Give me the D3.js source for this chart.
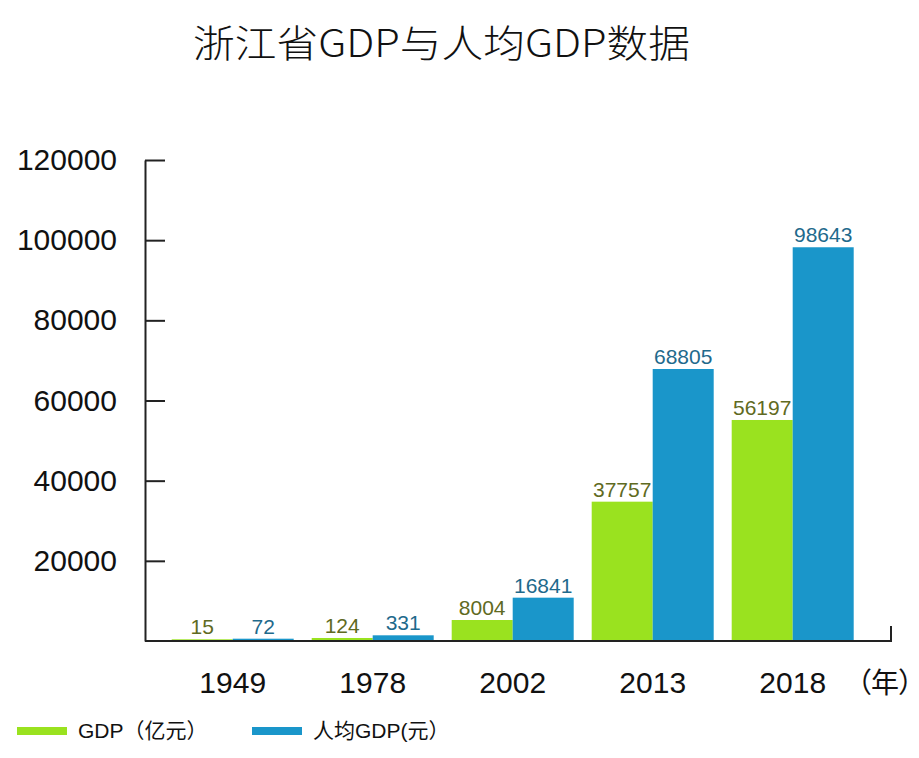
<!DOCTYPE html>
<html><head><meta charset="utf-8">
<script src="https://cdn.jsdelivr.net/npm/d3@7"></script>
<style>
html,body{margin:0;padding:0;background:#fff;}
text{font-family:"Liberation Sans","Noto Sans CJK SC",sans-serif;}
.palt{font-feature-settings:"palt" 1;}
</style></head>
<body><svg id="c" width="919" height="758"></svg>
<script>
const years = ["1949","1978","2002","2013","2018"];
// printed value labels
const gdpLabels = [15, 124, 8004, 37757, 56197];
const perCapitaLabels = [72, 331, 16841, 68805, 98643];
// bar heights as drawn in the picture
const gdpBars = [420, 750, 5240, 34760, 55140];
const perCapitaBars = [575, 1420, 10810, 67860, 98230];
const yTicks = [20000, 40000, 60000, 80000, 100000, 120000];
const seriesNames = ["GDP（亿元）", "人均GDP(元）"];
const colors = ["#9ae21f", "#1a96ca"];
const labelColors = ["#5f6a22", "#1f6a8c"];

const svg = d3.select("#c");
const axisLeftX = 145, axisRightX = 891, yTop = 160, yBase = 641;

const y = d3.scaleLinear().domain([0, 120000]).range([yBase, yTop]);
const x = d3.scaleBand().domain(years).range([171.7, 853.7]).paddingInner(18/140).paddingOuter(0);
const xs = d3.scaleBand().domain([0,1]).range([0, x.bandwidth()]);

// title
svg.append("text").attr("x", 193).attr("y", 57)
  .style("font-family", '"Noto Sans CJK SC", sans-serif')
  .attr("font-size", 38).attr("font-weight", 300).attr("fill","#111")
  .attr("textLength", 497).attr("lengthAdjust", "spacingAndGlyphs")
  .text("浙江省GDP与人均GDP数据");

// bars
const series = [gdpBars, perCapitaBars];
const labels = [gdpLabels, perCapitaLabels];
series.forEach((vals, si) => {
  const g = svg.append("g");
  g.selectAll("rect").data(vals).join("rect")
    .attr("x", (d,i) => x(years[i]) + xs(si))
    .attr("width", xs.bandwidth())
    .attr("y", d => y(d))
    .attr("height", d => yBase - y(d))
    .attr("fill", colors[si]);
  g.selectAll("text").data(vals).join("text")
    .attr("x", (d,i) => x(years[i]) + xs(si) + xs.bandwidth()/2)
    .attr("y", d => y(d) - 5)
    .attr("text-anchor","middle")
    .attr("font-size", 21)
    .attr("fill", labelColors[si])
    .text((d,i) => labels[si][i]);
});

// y axis
const yAxis = svg.append("g").attr("transform", `translate(${axisLeftX},0)`)
  .call(d3.axisLeft(y).tickValues(yTicks).tickSizeInner(-20).tickSizeOuter(0).tickPadding(28).tickFormat(d3.format("d")));
yAxis.selectAll("path, line").attr("stroke","#222").attr("stroke-width",2);
yAxis.selectAll("text").attr("font-size", 30).attr("fill","#111").attr("font-family",null);

// x axis
svg.append("path").attr("d", `M${axisLeftX},${yBase}H${axisRightX}V${yBase-15}`)
  .attr("fill","none").attr("stroke","#222").attr("stroke-width",2);
const xAxis = svg.append("g").attr("transform", `translate(0,${yBase})`)
  .call(d3.axisBottom(x).tickSize(0));
xAxis.select(".domain").remove();
xAxis.selectAll("text").attr("y", 52).attr("dy", null).attr("font-size", 30).attr("fill","#111").attr("font-family",null);
svg.append("text").attr("class","palt").attr("x", 913).attr("y", 693).attr("text-anchor","end")
  .attr("font-size", 28).attr("fill","#111").text("（年）");

// legend
const legendX = [17, 252];
seriesNames.forEach((n, i) => {
  svg.append("rect").attr("x", legendX[i]).attr("y", 727).attr("width", 50).attr("height", 8).attr("fill", colors[i]);
  svg.append("text").attr("x", legendX[i] + 61).attr("y", 738).attr("font-size", 21).attr("fill","#111").text(n);
});
</script></body></html>
